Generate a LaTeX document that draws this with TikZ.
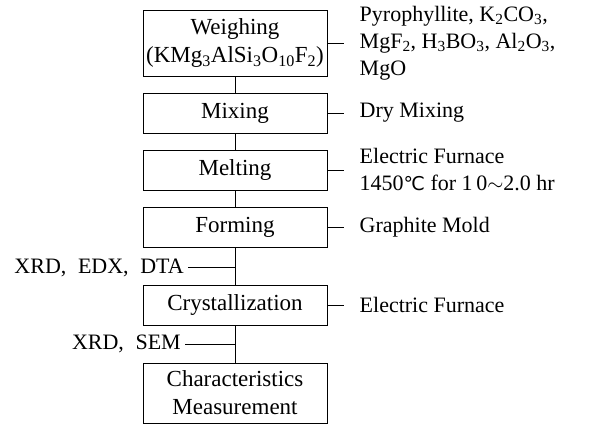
\documentclass[tikz,border=0pt]{standalone}
\usepackage{fontspec}
\setmainfont{Liberation Serif}
\newfontfamily\degfont{DejaVu Sans}
\usetikzlibrary{positioning,calc}
\newcommand{\sub}[1]{\textsubscript{#1}}
\tikzset{
  process box/.style={
    rectangle, draw, line width=1pt, align=center,
    minimum width=184pt, minimum height=40pt,
    inner xsep=1pt, inner ysep=2pt,
    font=\fontsize{23}{28}\selectfont
  },
  note text/.style={
    align=left, inner xsep=16pt, inner ysep=0pt,
    font=\fontsize{22}{27}\selectfont
  },
  tag text/.style={inner xsep=4pt, inner ysep=0pt, font=\fontsize{22}{27}\selectfont},
  link line/.style={line width=1pt}
}

\begin{document}
\begin{tikzpicture}[node distance=16pt]
    \useasboundingbox (0pt,0pt) rectangle (593pt,-424pt);
    \node[process box, minimum height=66pt] (weigh) at (235pt,-43pt)
      {Weighing\\(KMg\sub{3}AlSi\sub{3}O\sub{10}F\sub{2})};
    \node[process box, below=of weigh] (mix) {Mixing};
    \node[process box, below=of mix] (melt) {Melting};
    \node[process box, below=of melt] (form) {Forming};
    \node[process box, below=37pt of form] (cryst) {Crystallization};
    \node[process box, below=37pt of cryst, minimum height=60pt] (charact)
      {Characteristics\\Measurement};
    \draw[link line] (weigh) -- (mix);
    \draw[link line] (mix) -- (melt);
    \draw[link line] (melt) -- (form);
    \draw[link line] (form) -- (cryst);
    \draw[link line] (cryst) -- (charact);
    \node[note text, right=16pt of weigh] (weighnote)
      {Pyrophyllite, K\sub{2}CO\sub{3},\\MgF\sub{2}, H\sub{3}BO\sub{3}, Al\sub{2}O\sub{3},\\MgO};
    \node[note text, right=16pt of mix] (mixnote) {Dry Mixing};
    \node[note text, right=16pt of melt] (meltnote)
      {Electric Furnace\\1450{\degfont\fontsize{19}{20}\selectfont ℃} for 1\,0$\sim$2.0 hr};
    \node[note text, right=16pt of form] (formnote) {Graphite Mold};
    \node[note text, right=16pt of cryst] (crystnote) {Electric Furnace};
    \draw[link line] (weigh) -- (weighnote);
    \draw[link line] (mix) -- (mixnote);
    \draw[link line] (melt) -- (meltnote);
    \draw[link line] (form) -- (formnote);
    \draw[link line] (cryst) -- (crystnote);
    \coordinate (xrdjoin) at ($(form.south)!0.55!(cryst.north)$);
    \coordinate (semjoin) at ($(cryst.south)!0.5!(charact.north)$);
    \node[tag text, left=47pt of xrdjoin] (xrdtag) {XRD,\; EDX,\; DTA};
    \node[tag text, left=50pt of semjoin] (semtag) {XRD,\; SEM};
    \draw[link line] (xrdtag) -- (xrdjoin);
    \draw[link line] (semtag) -- (semjoin);
\end{tikzpicture}
\end{document}
